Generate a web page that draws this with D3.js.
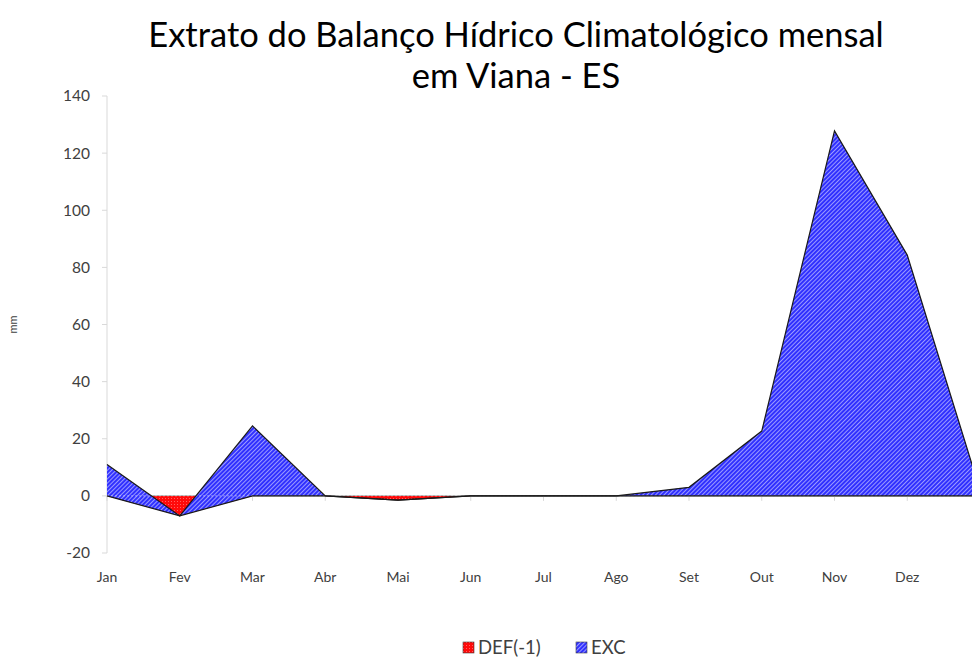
<!DOCTYPE html>
<html>
<head>
<meta charset="utf-8">
<script src="https://cdn.jsdelivr.net/npm/d3@7"></script>
<style>
body { margin: 0; background: #fff; }
svg { font-family: Lato, "Open Sans", sans-serif; }
</style>
</head>
<body>
<script>
var months = ['Jan', 'Fev', 'Mar', 'Abr', 'Mai', 'Jun', 'Jul', 'Ago', 'Set', 'Out', 'Nov', 'Dez', ''];
var def = [0, -7, 0, 0, -1.5, 0, 0, 0, 0, 0, 0, 0, 0];
var exc = [11, 0, 24.5, 0, 0, 0, 0, 0, 3, 22.7, 127.8, 84.3, 2];
var yTicks = [-20, 0, 20, 40, 60, 80, 100, 120, 140];

var width = 972, height = 657;
var margin = {left: 107, right: -8, top: 96, bottom: 104};

var svg = d3.select('body')
	.append('svg')
	.attr('width', width)
	.attr('height', height);

var defs = svg.append('defs');
var pat = defs.append('pattern')
	.attr('id', 'hatchBlue')
	.attr('patternUnits', 'userSpaceOnUse')
	.attr('width', 3)
	.attr('height', 3)
	.attr('patternTransform', 'rotate(45)');
pat.append('rect').attr('width', 3).attr('height', 3).attr('fill', '#3030ff');
pat.append('rect').attr('width', 1).attr('height', 3).attr('fill', '#9a9aff');

var patR = defs.append('pattern')
	.attr('id', 'dotRed')
	.attr('patternUnits', 'userSpaceOnUse')
	.attr('width', 3)
	.attr('height', 3);
patR.append('rect').attr('width', 3).attr('height', 3).attr('fill', '#ff0a0a');
patR.append('rect').attr('width', 1).attr('height', 1).attr('fill', '#ff6060');

var x = d3.scalePoint()
	.domain(d3.range(months.length))
	.range([margin.left, width - margin.right]);

var y = d3.scaleLinear()
	.domain([-20, 140])
	.range([height - margin.bottom, margin.top]);

var rows = months.map(function(m, i) {
	return {i: i, def: def[i], exc: exc[i]};
});
var stacked = d3.stack().keys(['def', 'exc'])(rows);

// y axis
svg.append('line')
	.attr('x1', margin.left).attr('x2', margin.left)
	.attr('y1', y(140)).attr('y2', y(-20))
	.attr('stroke', '#d9d9d9');

svg.selectAll('.ytick')
	.data(yTicks)
	.enter()
	.append('line')
	.attr('x1', margin.left - 5).attr('x2', margin.left)
	.attr('y1', function(d) { return y(d); })
	.attr('y2', function(d) { return y(d); })
	.attr('stroke', '#d9d9d9');

svg.selectAll('.ylabel')
	.data(yTicks)
	.enter()
	.append('text')
	.attr('x', margin.left - 17)
	.attr('y', function(d) { return y(d); })
	.attr('dy', '0.35em')
	.attr('text-anchor', 'end')
	.attr('font-size', 15.5)
	.attr('fill', '#404040')
	.text(function(d) { return d; });

svg.append('text')
	.attr('transform', 'translate(17,' + y(60) + ') rotate(-90)')
	.attr('text-anchor', 'middle')
	.attr('font-size', 11)
	.attr('fill', '#404040')
	.text('mm');

// x axis line and ticks
svg.append('line')
	.attr('x1', margin.left).attr('x2', width)
	.attr('y1', y(0)).attr('y2', y(0))
	.attr('stroke', '#868686');

svg.selectAll('.xtick')
	.data(d3.range(months.length))
	.enter()
	.append('line')
	.attr('x1', function(d) { return x(d); })
	.attr('x2', function(d) { return x(d); })
	.attr('y1', y(0)).attr('y2', y(0) + 5)
	.attr('stroke', '#d9d9d9');

svg.selectAll('.xlabel')
	.data(months)
	.enter()
	.append('text')
	.attr('x', function(d, i) { return x(i); })
	.attr('y', y(-20) + 29)
	.attr('text-anchor', 'middle')
	.attr('font-size', 14)
	.attr('fill', '#404040')
	.text(function(d) { return d; });

// areas
var area = d3.area()
	.x(function(d) { return x(d.data.i); })
	.y0(function(d) { return y(d[0]); })
	.y1(function(d) { return y(d[1]); });

var topLine = d3.line()
	.x(function(d) { return x(d.data.i); })
	.y(function(d) { return y(d[1]); });

svg.append('path')
	.datum(stacked[0])
	.attr('d', area)
	.attr('fill', 'url(#dotRed)');

svg.append('path')
	.datum(stacked[1])
	.attr('d', area)
	.attr('fill', 'url(#hatchBlue)');

svg.append('line')
	.attr('x1', margin.left).attr('x2', width)
	.attr('y1', y(0)).attr('y2', y(0))
	.attr('stroke', '#ffffff')
	.attr('stroke-opacity', 0.45)
	.attr('stroke-dasharray', '2,2');

svg.append('path')
	.datum(stacked[0])
	.attr('d', topLine)
	.attr('fill', 'none')
	.attr('stroke', '#1a1a1a')
	.attr('stroke-width', 1.2);

svg.append('path')
	.datum(stacked[1])
	.attr('d', topLine)
	.attr('fill', 'none')
	.attr('stroke', '#1a1a1a')
	.attr('stroke-width', 1.2);

// title
var title = svg.append('text')
	.attr('text-anchor', 'middle')
	.attr('font-size', 34.5)
	.attr('fill', '#000');
title.append('tspan').attr('x', 516).attr('y', 47).text('Extrato do Balanço Hídrico Climatológico mensal');
title.append('tspan').attr('x', 516).attr('y', 88).text('em Viana - ES');

// legend
var legend = [
	{name: 'DEF(-1)', fill: 'url(#dotRed)', x: 463},
	{name: 'EXC', fill: 'url(#hatchBlue)', x: 576}
];
var lg = svg.selectAll('.legend')
	.data(legend)
	.enter()
	.append('g')
	.attr('transform', function(d) { return 'translate(' + d.x + ',642)'; });
lg.append('rect')
	.attr('width', 11).attr('height', 11)
	.attr('fill', function(d) { return d.fill; })
	.attr('stroke', '#404040')
	.attr('stroke-width', 0.6);
lg.append('text')
	.attr('x', 15)
	.attr('y', 5.5)
	.attr('dy', '0.35em')
	.attr('font-size', 18.5)
	.attr('fill', '#404040')
	.text(function(d) { return d.name; });
</script>
</body>
</html>
